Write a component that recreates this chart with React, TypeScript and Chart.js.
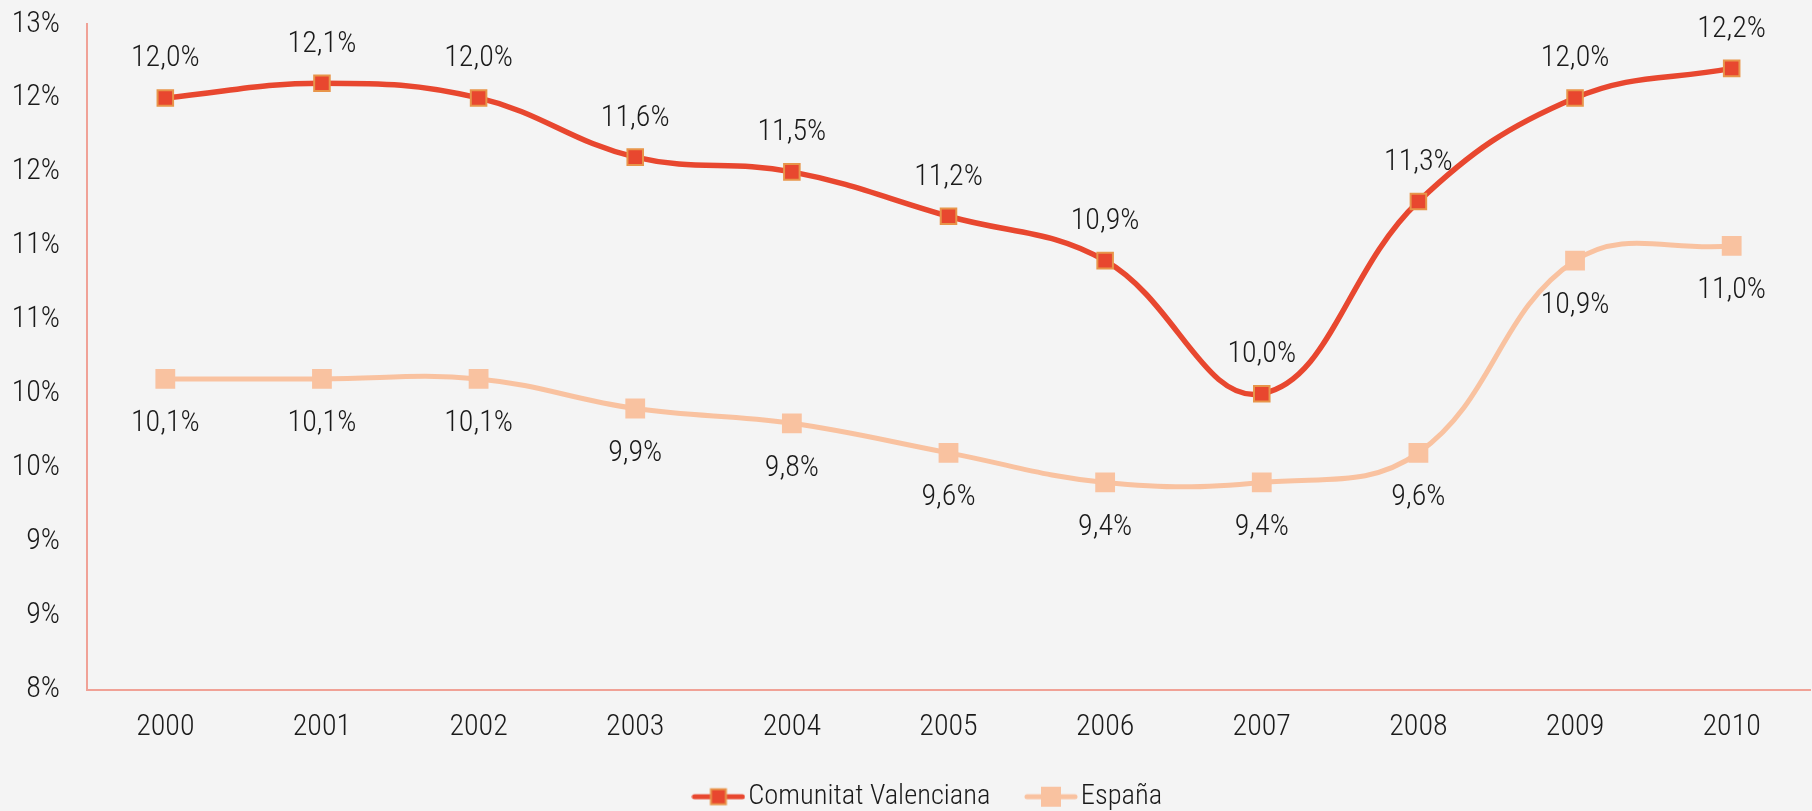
import React, { useEffect, useRef } from "react";
import { Chart, registerables } from "chart.js";

Chart.register(...registerables);

const years = ["2000", "2001", "2002", "2003", "2004", "2005", "2006", "2007", "2008", "2009", "2010"];
const valenciana = [12.0, 12.1, 12.0, 11.6, 11.5, 11.2, 10.9, 10.0, 11.3, 12.0, 12.2];
const espana = [10.1, 10.1, 10.1, 9.9, 9.8, 9.6, 9.4, 9.4, 9.6, 10.9, 11.0];
const seriesNames = ["Comunitat Valenciana", "España"];

const FONT = "'Roboto Condensed', 'Liberation Sans Narrow', 'Arial Narrow', 'DejaVu Sans Condensed', sans-serif";
const WEIGHT = 300;
const RED = "#e8472f";
const RED_BORDER = "#e8954a";
const PEACH = "#f9c2a0";
const TEXT = "#1a1a1a";
const BG = "#f4f4f4";
const AXIS = "#f0a196";

const LEGEND_FONT = 28.5;
const LEGEND_BOX = 31;
const LEGEND_PAD = 45;
const LEGEND_SHIFT = 14;

function makeLegendIcon(lineColor: string, fill: string, border: string, side: number, bw: number) {
  const W = Math.round(LEGEND_BOX + LEGEND_FONT - 6);
  const c = document.createElement("canvas");
  c.width = W;
  c.height = 24;
  const ctx = c.getContext("2d")!;
  ctx.strokeStyle = lineColor;
  ctx.lineWidth = 5;
  ctx.lineCap = "round";
  ctx.beginPath();
  ctx.moveTo(W - 51, 12);
  ctx.lineTo(W - 3, 12);
  ctx.stroke();
  const cx = W - 27;
  ctx.fillStyle = fill;
  ctx.fillRect(cx - side / 2, 12 - side / 2, side, side);
  if (bw > 0) {
    ctx.strokeStyle = border;
    ctx.lineWidth = bw;
    ctx.strokeRect(cx - side / 2, 12 - side / 2, side, side);
  }
  return c;
}

const labelPlugin = {
  id: "valueLabels",
  afterLayout(chart: any) {
    if (chart.legend) {
      chart.legend.left += LEGEND_SHIFT;
      chart.legend.right += LEGEND_SHIFT;
    }
  },
  afterDatasetsDraw(chart: any) {
    const ctx = chart.ctx;
    ctx.save();
    ctx.font = `${WEIGHT} 30px ${FONT}`;
    ctx.fillStyle = TEXT;
    ctx.textAlign = "center";
    ctx.textBaseline = "middle";
    chart.data.datasets.forEach((ds: any, i: number) => {
      const meta = chart.getDatasetMeta(i);
      const off = i === 0 ? -39 : 45;
      meta.data.forEach((pt: any, j: number) => {
        const v = ds.data[j] as number;
        ctx.fillText(v.toFixed(1).replace(".", ",") + "%", pt.x, pt.y + off);
      });
    });
    ctx.restore();
  },
};

export default function App() {
  const ref = useRef<HTMLCanvasElement | null>(null);
  useEffect(() => {
    if (!ref.current) return;
    const icons = [
      makeLegendIcon(RED, RED, RED_BORDER, 15, 2),
      makeLegendIcon(PEACH, PEACH, PEACH, 20, 0),
    ];
    const font = { family: FONT, size: 30, weight: WEIGHT };
    const chart = new Chart(ref.current, {
      type: "line",
      data: {
        labels: years,
        datasets: [
          {
            label: seriesNames[0],
            data: valenciana,
            borderColor: RED,
            borderWidth: 5.5,
            backgroundColor: RED,
            pointStyle: "rect",
            pointRadius: 11,
            pointBackgroundColor: RED,
            pointBorderColor: RED_BORDER,
            pointBorderWidth: 2,
            tension: 0.4,
          },
          {
            label: seriesNames[1],
            data: espana,
            borderColor: PEACH,
            borderWidth: 5,
            backgroundColor: PEACH,
            pointStyle: "rect",
            pointRadius: 14,
            pointBackgroundColor: PEACH,
            pointBorderColor: PEACH,
            pointBorderWidth: 0,
            tension: 0.4,
          },
        ],
      },
      options: {
        responsive: false,
        animation: false,
        layout: { padding: { left: 13, top: 24, right: 0, bottom: -10 } },
        scales: {
          x: {
            offset: true,
            grid: { display: false, drawTicks: false },
            border: { display: true, color: AXIS, width: 2 },
            ticks: { color: TEXT, font, padding: 20 },
            afterFit: (s: any) => {
              s.height = 48;
            },
          },
          y: {
            min: 8,
            max: 12.5,
            grid: { display: false, drawTicks: false },
            border: { display: true, color: AXIS, width: 2 },
            ticks: {
              stepSize: 0.5,
              color: TEXT,
              font,
              padding: 27,
              callback: (v: any) => Math.round(Number(v)).toFixed(0) + "%",
            },
            afterFit: (s: any) => {
              s.width = 74;
              s.paddingTop = 0;
              s.paddingBottom = 0;
            },
          },
        },
        plugins: {
          tooltip: { enabled: false },
          legend: {
            position: "bottom",
            labels: {
              usePointStyle: true,
              pointStyleWidth: LEGEND_BOX,
              color: TEXT,
              font: { family: FONT, size: LEGEND_FONT, weight: WEIGHT },
              padding: LEGEND_PAD,
              generateLabels: (ch: any) =>
                ch.data.datasets.map((ds: any, i: number) => ({
                  text: ds.label,
                  pointStyle: icons[i],
                  fillStyle: "transparent",
                  strokeStyle: "transparent",
                  lineWidth: 0,
                  datasetIndex: i,
                  fontColor: TEXT,
                })),
            },
          },
        },
      },
      plugins: [labelPlugin],
    });
    return () => chart.destroy();
  }, []);
  return (
    <div style={{ position: "fixed", left: 0, top: 0, width: 1824, height: 811, background: BG }}>
      <canvas ref={ref} width={1824} height={811} style={{ display: "block" }} />
    </div>
  );
}
